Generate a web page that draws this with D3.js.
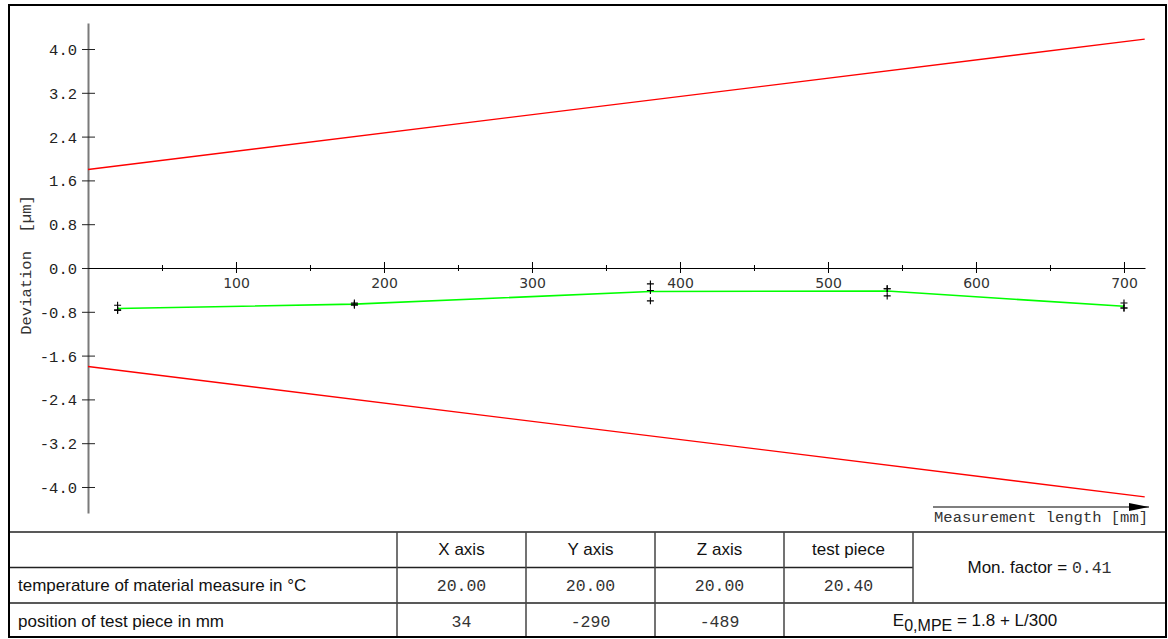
<!DOCTYPE html>
<html>
<head>
<meta charset="utf-8">
<script src="https://cdn.jsdelivr.net/npm/d3@7"></script>
<style>
  html, body { margin: 0; padding: 0; background: #fff; }
  svg { display: block; }
  .mono { font-family: "Liberation Mono", "Courier New", monospace; }
  .sans { font-family: "Liberation Sans", Arial, sans-serif; }
</style>
</head>
<body>
<svg id="chart" width="1168" height="639"></svg>
<script>
// Measurement positions along the length [mm]
const positions = [20, 180, 380, 540, 700];
// Repeated deviation readings at each position [µm]
const readings = [
  [-0.68, -0.77, -0.77],
  [-0.64, -0.66, -0.68],
  [-0.29, -0.41, -0.60],
  [-0.38, -0.38, -0.51],
  [-0.64, -0.73, -0.73]
];
// Mean deviation per position [µm]
const meanDeviation = [-0.74, -0.66, -0.43, -0.42, -0.70];

// MPE limit lines, E0,MPE = 1.8 + L/300
const limitLength = [0, 714];
const limitUpper = [1.8, 4.18];
const limitLower = [-1.8, -4.18];

// Axis ticks
const yTicks = [-4.0, -3.2, -2.4, -1.6, -0.8, 0.0, 0.8, 1.6, 2.4, 3.2, 4.0];
const xMajorTicks = [100, 200, 300, 400, 500, 600, 700];
const xMinorTicks = [50, 150, 250, 350, 450, 550, 650];

// Table contents
const tableHeaders = ["X axis", "Y axis", "Z axis", "test piece"];
const rowLabels = ["temperature of material measure in °C", "position of test piece in mm"];
const temperatures = ["20.00", "20.00", "20.00", "20.40"];
const testPiecePositions = ["34", "-290", "-489"];
const monFactor = "0.41";

const svg = d3.select("#chart");

const x = d3.scaleLinear().domain([0, 714.2]).range([88, 1145]);
const y = d3.scaleLinear().domain([-4.475, 4.475]).range([513, 23]);

// ---- Y axis ----
const yAxis = d3.axisLeft(y)
  .tickValues(yTicks)
  .tickSizeOuter(0)
  .tickFormat(d => d.toFixed(1));
const gy = svg.append("g").attr("transform", "translate(88,0)").call(yAxis);
gy.select(".domain").attr("stroke", "#7a7a7a").attr("stroke-width", 2);
gy.selectAll(".tick line").attr("x1", -6).attr("x2", 7).attr("stroke", "#222");
gy.selectAll(".tick text")
  .attr("x", -11)
  .attr("dy", "0.35em")
  .attr("class", "mono")
  .style("font-size", "15.5px")
  .attr("fill", "#222");
gy.attr("font-family", null).attr("font-size", null);

// ---- X axis (drawn through y = 0) ----
const xAxis = d3.axisBottom(x)
  .tickValues(xMajorTicks)
  .tickSizeOuter(0)
  .tickFormat(d3.format("d"));
const gx = svg.append("g").attr("transform", `translate(0,${y(0)})`).call(xAxis);
gx.select(".domain").attr("stroke", "#000").attr("stroke-width", 1.2);
gx.selectAll(".tick line").attr("y1", -6).attr("y2", 5).attr("stroke", "#000");
gx.selectAll(".tick text")
  .attr("y", 20)
  .attr("dy", 0)
  .style("font-family", "'DejaVu Sans', Verdana, sans-serif")
  .style("font-size", "14px")
  .attr("fill", "#333");
gx.attr("font-family", null).attr("font-size", null);

const gxMinor = d3.axisBottom(x).tickValues(xMinorTicks).tickSizeOuter(0).tickFormat("");
const gm = svg.append("g").attr("transform", `translate(0,${y(0)})`).call(gxMinor);
gm.select(".domain").remove();
gm.selectAll(".tick line").attr("y1", -3).attr("y2", 3).attr("stroke", "#000");

// ---- Axis titles ----
svg.append("text")
  .attr("class", "mono")
  .attr("transform", `translate(31,${y(0) - 3}) rotate(-90)`)
  .attr("text-anchor", "middle")
  .style("font-size", "15.5px")
  .attr("fill", "#333")
  .attr("xml:space", "preserve")
  .text("Deviation  [µm]");

svg.append("defs").append("marker")
  .attr("id", "arrowhead")
  .attr("viewBox", "0 0 20 8")
  .attr("refX", 20).attr("refY", 4)
  .attr("markerWidth", 20).attr("markerHeight", 8)
  .attr("markerUnits", "userSpaceOnUse")
  .attr("orient", "auto")
  .append("path").attr("d", "M0,0 L20,4 L0,8 Z").attr("fill", "#000");

svg.append("line")
  .attr("x1", 933).attr("x2", 1149)
  .attr("y1", 507).attr("y2", 507)
  .attr("stroke", "#000").attr("stroke-width", 1.2)
  .attr("marker-end", "url(#arrowhead)");

svg.append("text")
  .attr("class", "mono")
  .attr("x", 1148).attr("y", 522)
  .attr("text-anchor", "end")
  .style("font-size", "15.5px")
  .attr("fill", "#333")
  .text("Measurement length [mm]");

// ---- Limit lines ----
const limitLine = d3.line().x((d, i) => x(limitLength[i])).y(d => y(d));
svg.append("path").datum(limitUpper)
  .attr("d", limitLine).attr("fill", "none").attr("stroke", "#ff0000").attr("stroke-width", 1.4);
svg.append("path").datum(limitLower)
  .attr("d", limitLine).attr("fill", "none").attr("stroke", "#ff0000").attr("stroke-width", 1.4);

// ---- Mean deviation line ----
const meanLine = d3.line().x((d, i) => x(positions[i])).y(d => y(d));
svg.append("path").datum(meanDeviation)
  .attr("d", meanLine).attr("fill", "none").attr("stroke", "#00ff00").attr("stroke-width", 1.6);

// ---- Individual readings as plus markers ----
const plusPts = [];
readings.forEach((vals, i) => vals.forEach(v => plusPts.push({ L: positions[i], v })));
svg.append("g").selectAll("path.plus").data(plusPts).join("path")
  .attr("class", "plus")
  .attr("d", d => {
    const cx = x(d.L), cy = y(d.v);
    return `M${cx - 3.5},${cy}H${cx + 3.5}M${cx},${cy - 3.5}V${cy + 3.5}`;
  })
  .attr("stroke", "#000").attr("stroke-width", 1.1).attr("fill", "none");

// ---- Table ----
const colX = [8, 397, 526, 655, 784, 913, 1166];
const rowY = [532, 567.5, 603, 638];
const tbl = svg.append("g");
const hline = (x1, x2, yy) => tbl.append("line").attr("x1", x1).attr("x2", x2).attr("y1", yy).attr("y2", yy)
  .attr("stroke", "#222").attr("stroke-width", 1.5);
const vline = (xx, y1, y2) => tbl.append("line").attr("x1", xx).attr("x2", xx).attr("y1", y1).attr("y2", y2)
  .attr("stroke", "#444").attr("stroke-width", 1.5);
hline(colX[0], colX[6], rowY[0]);
hline(colX[0], colX[5], rowY[1]);
hline(colX[0], colX[6], rowY[2]);
[1, 2, 3, 4].forEach(i => vline(colX[i], rowY[0], rowY[3]));
vline(colX[5], rowY[0], rowY[2]);

const sansSize = "17px";
const monoSize = "16.5px";
const colCenter = i => (colX[i + 1] + colX[i + 2]) / 2;
tableHeaders.forEach((h, i) => {
  tbl.append("text").attr("class", "sans")
    .attr("x", colCenter(i)).attr("y", 555)
    .attr("text-anchor", "middle").style("font-size", sansSize).attr("fill", "#111")
    .text(h);
});
tbl.append("text").attr("class", "sans").attr("x", 18).attr("y", 591)
  .style("font-size", sansSize).attr("fill", "#111").text(rowLabels[0]);
tbl.append("text").attr("class", "sans").attr("x", 18).attr("y", 627)
  .style("font-size", sansSize).attr("fill", "#111").text(rowLabels[1]);
temperatures.forEach((t, i) => {
  tbl.append("text").attr("class", "mono")
    .attr("x", colCenter(i)).attr("y", 591)
    .attr("text-anchor", "middle").style("font-size", monoSize).attr("fill", "#333")
    .text(t);
});
testPiecePositions.forEach((t, i) => {
  tbl.append("text").attr("class", "mono")
    .attr("x", colCenter(i)).attr("y", 627)
    .attr("text-anchor", "middle").style("font-size", monoSize).attr("fill", "#333")
    .text(t);
});
const mon = tbl.append("text").attr("x", (colX[5] + colX[6]) / 2).attr("y", 573)
  .attr("text-anchor", "middle").attr("fill", "#111");
mon.append("tspan").attr("class", "sans").style("font-size", sansSize).text("Mon. factor = ");
mon.append("tspan").attr("class", "mono").style("font-size", monoSize).attr("fill", "#333").text(monFactor);

const mpe = tbl.append("text").attr("class", "sans").attr("x", (colX[4] + colX[6]) / 2).attr("y", 626)
  .attr("text-anchor", "middle").style("font-size", "17px").attr("fill", "#111");
mpe.append("tspan").text("E");
mpe.append("tspan").attr("dy", 5).style("font-size", "16px").text("0,MPE");
mpe.append("tspan").attr("dy", -5).text(" = 1.8 + L/300");

// ---- Outer frame ----
svg.append("rect")
  .attr("x", 9).attr("y", 5).attr("width", 1157).attr("height", 632)
  .attr("fill", "none").attr("stroke", "#000").attr("stroke-width", 2);
</script>
</body>
</html>
